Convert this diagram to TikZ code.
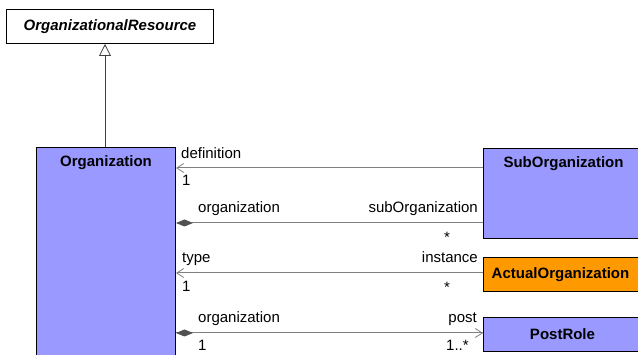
\documentclass[tikz,border=0pt]{standalone}
\usepackage{fontspec}
\setmainfont{Liberation Sans}
\usetikzlibrary{arrows.meta}
\definecolor{umlblue}{HTML}{9999FF}
\definecolor{umlorange}{HTML}{FF9900}
\definecolor{linegray}{HTML}{808080}
\definecolor{diamondgray}{HTML}{505050}
\begin{document}
\begin{tikzpicture}[x=1pt,y=-1pt,
  every node/.style={font=\fontsize{15}{18}\selectfont},
  classbox/.style={draw=black, line width=1pt, inner sep=0pt, anchor=north west},
  rolelbl/.style={inner sep=0pt},
  assoc/.style={draw=linegray, line width=1pt},
  navtip/.style={-{Straight Barb[length=7pt,width=9pt,line width=0.8pt]}},
  comptip/.style={-{Diamond[length=17pt,width=7pt,fill=diamondgray,color=diamondgray]}},
  gentip/.style={-{Triangle[open,length=12pt,width=12pt,line width=0.8pt]}}
]
\useasboundingbox (0,0) rectangle (638,355);
\begin{scope}
\clip (0,0) rectangle (638,355);
\node[classbox, fill=white, minimum width=207pt, minimum height=34pt] (res) at (6,9)
  {\textbf{\itshape OrganizationalResource}};
\node[classbox, fill=umlblue, minimum width=139pt, minimum height=230pt,
  label={[anchor=north, yshift=-8pt, inner sep=0pt]north:\textbf{Organization}}] (org) at (36,147) {};
\node[classbox, fill=umlblue, minimum width=160pt, minimum height=90pt,
  label={[anchor=north, yshift=-8pt, inner sep=0pt]north:\textbf{SubOrganization}}] (sub) at (483,148) {};
\node[classbox, fill=umlorange, minimum width=160pt, minimum height=34pt] (act) at (483,257)
  {\hspace{-6pt}\textbf{ActualOrganization}};
\node[classbox, fill=umlblue, minimum width=160pt, minimum height=34pt] (post) at (483,317)
  {\hspace{-2pt}\textbf{PostRole}};

% generalization
\draw[draw=black!75, line width=1pt, gentip] (org.north -| 105,0) -- (res.south -| 105,0);

% associations
\draw[assoc, navtip] (sub.west |- 0,168) -- (org.east |- 0,168);
\draw[assoc, comptip] (sub.west |- 0,223) -- (org.east |- 0,223);
\draw[assoc, navtip] (act.west |- 0,273) -- (org.east |- 0,273);
\draw[assoc, navtip] (org.east |- 0,333) -- (post.west |- 0,333);
\draw[assoc, comptip] (post.west |- 0,333) -- (org.east |- 0,333);

% role labels
\node[rolelbl, anchor=base west] (l1) at (181,159) {definition};
\node[rolelbl, anchor=base west] (l2) at (182,186) {1};
\node[rolelbl, anchor=base west] (l3) at (198,213) {organization};
\node[rolelbl, anchor=base east] (l4) at (478,213) {subOrganization};
\node[rolelbl] (l5) at (447,237) {*};
\node[rolelbl, anchor=base west] (l6) at (182,263) {type};
\node[rolelbl, anchor=base east] (l7) at (478,263) {instance};
\node[rolelbl, anchor=base west] (l8) at (182,292) {1};
\node[rolelbl] (l9) at (447,287) {*};
\node[rolelbl, anchor=base west] (l10) at (198,323) {organization};
\node[rolelbl, anchor=base east] (l11) at (477,323) {post};
\node[rolelbl, anchor=base west] (l12) at (198,351) {1};
\node[rolelbl, anchor=base west] (l13) at (446,351) {1..*};
\end{scope}
\end{tikzpicture}
\end{document}
